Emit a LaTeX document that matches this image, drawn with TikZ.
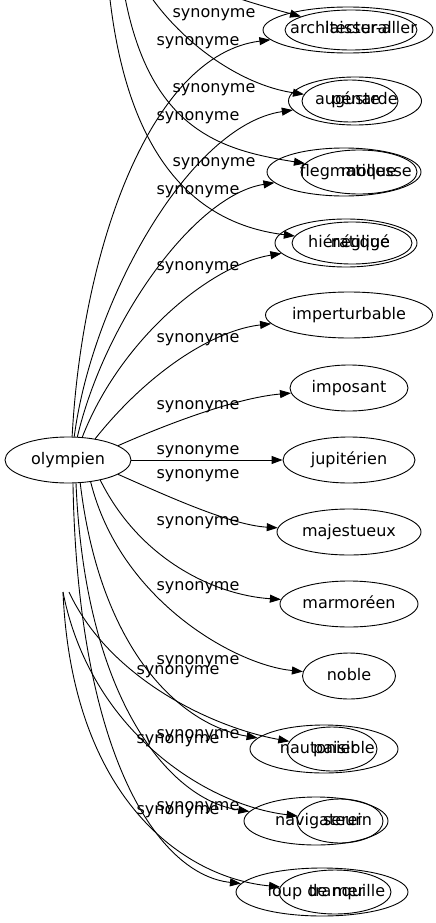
\documentclass[tikz,border=0pt]{standalone}
\usepackage{fontspec}
\setmainfont{DejaVu Sans}
\usetikzlibrary{shapes.geometric,arrows.meta}
\newcommand\shtext[2]{\makebox[0pt]{\hspace*{#1}#2}}
\begin{document}
\begin{tikzpicture}[x=1pt,y=-1pt,
  every node/.style={font=\fontsize{16}{19}\selectfont},
  word/.style={ellipse,draw,line width=0.9pt,inner sep=0pt,text height=12pt,text depth=4pt},
  lab/.style={inner sep=0pt},
  conn/.style={line width=0.9pt,-{Triangle[length=11pt,width=8pt]}}]
\useasboundingbox (0,0) rectangle (436,923);
\clip (0,0) rectangle (436,923);
% source
\node[word,minimum width=126pt,minimum height=46pt] (o) at (68,460) {olympien};
% targets
\node[word,minimum width=170pt,minimum height=46pt] (b1) at (348,30) {\shtext{-14pt}{architectural}};
\node[word,minimum width=132pt,minimum height=40pt] (s1) at (351,30) {\shtext{40pt}{laisser-aller}};
\node[word,minimum width=133pt,minimum height=48pt] (b2) at (355,101) {\shtext{-15pt}{auguste}};
\node[word,minimum width=96pt,minimum height=42pt] (s2) at (350,101) {\shtext{29pt}{pénarde}};
\node[word,minimum width=154pt,minimum height=48pt] (b3) at (344,172) {\shtext{8pt}{flegmatique}};
\node[word,minimum width=116pt,minimum height=44pt] (s3) at (359,172) {\shtext{35pt}{mollesse}};
\node[word,minimum width=142pt,minimum height=48pt] (b4) at (346,243) {\shtext{6pt}{hiératique}};
\node[word,minimum width=120pt,minimum height=42pt] (s4) at (352,243) {\shtext{17pt}{négligé}};
\node[word,minimum width=167pt,minimum height=46pt] (b5) at (349,315) {imperturbable};
\node[word,minimum width=118pt,minimum height=46pt] (b6) at (349,388) {imposant};
\node[word,minimum width=132pt,minimum height=46pt] (b7) at (349,460) {jupitérien};
\node[word,minimum width=144pt,minimum height=46pt] (b8) at (349,532) {majestueux};
\node[word,minimum width=138pt,minimum height=46pt] (b9) at (349,604) {marmoréen};
\node[word,minimum width=93pt,minimum height=46pt] (b10) at (349,676) {noble};
\node[word,minimum width=148pt,minimum height=48pt] (b11) at (324,749) {\shtext{-11pt}{nautonier}};
\node[word,minimum width=90pt,minimum height=44pt] (s11) at (332,749) {\shtext{24pt}{paisible}};
\node[word,minimum width=144pt,minimum height=48pt] (b12) at (316,821) {\shtext{5pt}{navigateur}};
\node[word,minimum width=86pt,minimum height=44pt] (s12) at (340,821) {\shtext{15pt}{serein}};
\node[word,minimum width=172pt,minimum height=48pt] (b13) at (322,892) {\shtext{-12pt}{loup de mer}};
\node[word,minimum width=112pt,minimum height=44pt] (s13) at (335,892) {\shtext{24pt}{tranquille}};
% free ends of the cut-off graphs
\coordinate (g2a) at (200,-15);
\coordinate (g2b) at (140,-20);
\coordinate (g2c) at (122,-20);
\coordinate (g2d) at (108,-20);
\coordinate (g3a) at (63,592);
\coordinate (g3b) at (69,592);
% olympien edges
\draw[conn] (o.80) .. controls (82,250) and (150,55) .. (b1);
\draw[conn] (o.75) .. controls (92,300) and (190,125) .. (b2);
\draw[conn] (o.68) .. controls (105,320) and (195,195) .. (b3);
\draw[conn] (o.58) .. controls (120,340) and (210,265) .. (b4);
\draw[conn] (o.38) .. controls (150,370) and (215,330) .. (b5);
\draw[conn] (o.16) .. controls (165,425) and (235,398) .. (b6);
\draw[conn] (o) -- (b7);
\draw[conn] (o.-16) .. controls (165,495) and (230,525) .. (b8);
\draw[conn] (o.-32) .. controls (140,560) and (215,595) .. (b9);
\draw[conn] (o.-44) .. controls (120,600) and (235,665) .. (b10);
\draw[conn] (o.-62) .. controls (100,650) and (180,725) .. (b11);
\draw[conn] (o.-71) .. controls (85,700) and (170,800) .. (b12);
\draw[conn] (o.-78) .. controls (78,760) and (160,875) .. (b13);
% second graph edges
\draw[conn] (g2a) .. controls (235,-2) and (262,6) .. (s1);
\draw[conn] (g2b) .. controls (175,40) and (240,85) .. (s2);
\draw[conn] (g2c) .. controls (145,130) and (220,150) .. (s3);
\draw[conn] (g2d) .. controls (125,170) and (205,225) .. (s4);
% third graph edges
\draw[conn] (g3b) .. controls (110,680) and (215,728) .. (s11);
\draw[conn] (g3a) .. controls (90,730) and (205,805) .. (s12);
\draw[conn] (g3a) .. controls (72,800) and (185,878) .. (s13);
% labels
\node[lab] (l1) at (214,15) {synonyme};
\node[lab] (l2) at (198,43) {synonyme};
\node[lab] (l3) at (214,90) {synonyme};
\node[lab] (l4) at (198,118) {synonyme};
\node[lab] (l5) at (214,164) {synonyme};
\node[lab] (l6) at (198,192) {synonyme};
\node[lab] (l7) at (198,268) {synonyme};
\node[lab] (l8) at (198,340) {synonyme};
\node[lab] (l9) at (198,407) {synonyme};
\node[lab] (l10) at (198,452) {synonyme};
\node[lab] (l11) at (198,476) {synonyme};
\node[lab] (l12) at (198,523) {synonyme};
\node[lab] (l13) at (198,588) {synonyme};
\node[lab] (l14) at (198,662) {synonyme};
\node[lab] (l15) at (178,672) {synonyme};
\node[lab] (l16) at (198,736) {synonyme};
\node[lab] (l17) at (178,741) {synonyme};
\node[lab] (l18) at (198,808) {synonyme};
\node[lab] (l19) at (178,812) {synonyme};
\end{tikzpicture}
\end{document}
